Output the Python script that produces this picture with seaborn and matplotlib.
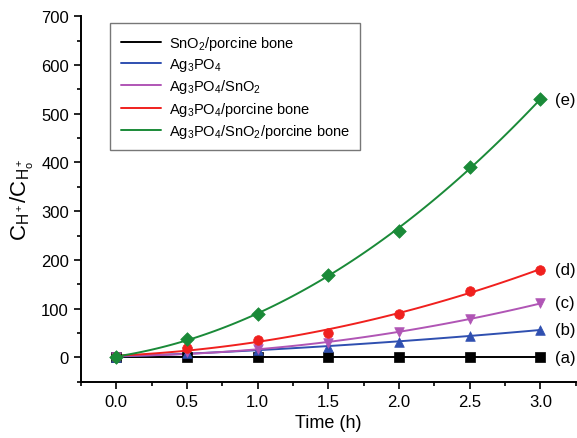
import numpy as np
import pandas as pd
import matplotlib
matplotlib.use('Agg')
import matplotlib.pyplot as plt
import seaborn as sns
from matplotlib.lines import Line2D

## DATA
time_h = [0.0, 0.5, 1.0, 1.5, 2.0, 2.5, 3.0]
sno2_bone = [0, 0, 0, 0, 0, 0, 0]
ag3po4 = [0, 10, 16, 22, 32, 44, 57]
ag3po4_sno2 = [0, 12, 18, 29, 52, 78, 112]
ag3po4_bone = [0, 20, 35, 50, 90, 137, 180]
ag3po4_sno2_bone = [0, 38, 90, 170, 260, 390, 530]

labels = ['SnO$_2$/porcine bone', 'Ag$_3$PO$_4$', 'Ag$_3$PO$_4$/SnO$_2$',
          'Ag$_3$PO$_4$/porcine bone', 'Ag$_3$PO$_4$/SnO$_2$/porcine bone']
tags = ['(a)', '(b)', '(c)', '(d)', '(e)']
series = [sno2_bone, ag3po4, ag3po4_sno2, ag3po4_bone, ag3po4_sno2_bone]
colors = ['#000000', '#2f4fb0', '#b055b5', '#f0201e', '#1a8a38']
markers = ['s', '^', 'v', 'o', 'D']
orders = [1, 2, 2, 2, 2]

## STYLE
sns.set_style('ticks')
plt.rcParams['font.family'] = ['Liberation Sans', 'DejaVu Sans']
plt.rcParams['mathtext.fontset'] = 'custom'
plt.rcParams['mathtext.rm'] = 'Liberation Sans'
plt.rcParams['mathtext.it'] = 'Liberation Sans'
plt.rcParams['text.color'] = 'black'
plt.rcParams['axes.labelcolor'] = 'black'
plt.rcParams['xtick.color'] = 'black'
plt.rcParams['ytick.color'] = 'black'
plt.rcParams['axes.edgecolor'] = 'black'

fig = plt.figure(figsize=(5.77, 4.39), dpi=100)
ax = fig.add_axes([0.140, 0.128, 0.858, 0.833])

#### Fitted curves + markers
for vals, col, mk, od in zip(series, colors, markers, orders):
    df = pd.DataFrame({'t': time_h, 'c': vals})
    sns.regplot(data=df, x='t', y='c', order=od, ci=None, truncate=True,
                scatter=False, ax=ax, color=col, line_kws={'lw': 1.4})
    sns.scatterplot(data=df, x='t', y='c', marker=mk, color=col, s=48,
                    edgecolor=col, linewidth=0.5, ax=ax, zorder=3)

#### Tags on the right
for vals, tag in zip(series, tags):
    ax.text(time_h[-1] + 0.1, vals[-1], tag, fontsize=12, va='center', ha='left')

ax.set_xlim(-0.25, 3.25)
ax.set_ylim(-50, 700)
ax.set_xticks(time_h)
ax.set_xticks(np.arange(-0.25, 3.3, 0.25), minor=True)
ax.set_yticks(range(0, 701, 100))
ax.set_yticks(range(-50, 701, 50), minor=True)
ax.xaxis.set_major_formatter(matplotlib.ticker.FormatStrFormatter('%.1f'))
ax.tick_params(which='major', direction='out', length=5, width=1.2, labelsize=12)
ax.tick_params(which='minor', direction='out', length=3, width=1.2)
for s in ['left', 'bottom']:
    ax.spines[s].set_linewidth(1.4)
sns.despine(ax=ax)

ax.set_xlabel('Time (h)', fontsize=13)
ax.set_ylabel(r'C$_{\mathrm{H}^+}$/C$_{\mathrm{H}^+_\mathrm{o}}$', fontsize=16)

handles = [Line2D([0], [0], color=c, lw=1.4) for c in colors]
leg = ax.legend(handles, labels, loc='upper left', bbox_to_anchor=(0.045, 1.0),
                fontsize=10.5, frameon=True, fancybox=False, edgecolor='#555555',
                handlelength=2.8, borderpad=0.7, labelspacing=0.3, handletextpad=0.5)
leg.get_frame().set_linewidth(1.0)

plt.savefig('out.png', dpi=100)
